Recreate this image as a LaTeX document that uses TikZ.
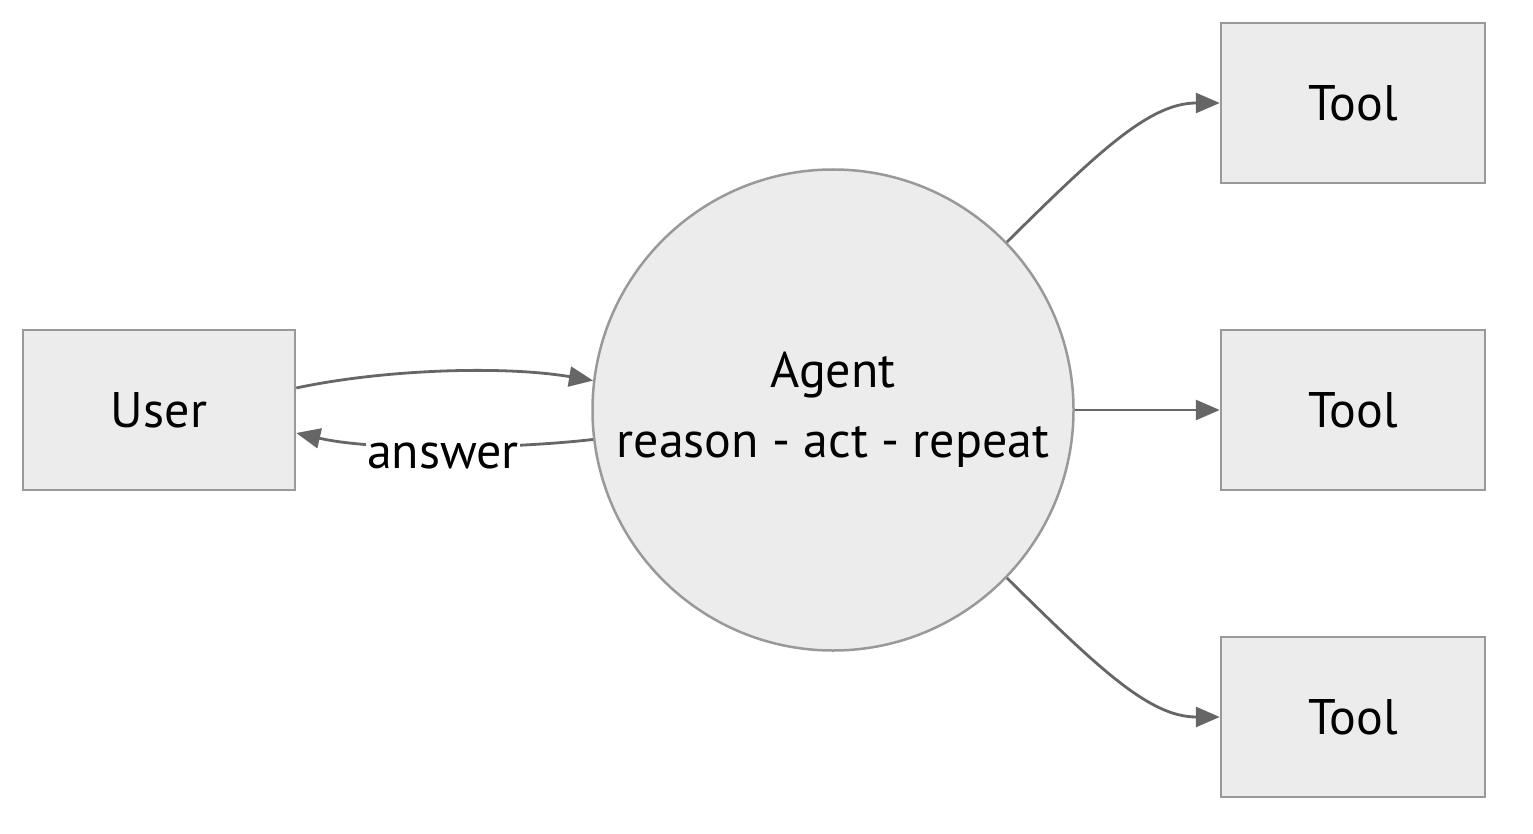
\documentclass[tikz,border=0pt]{standalone}
\usepackage{fontspec}
\setmainfont{PT Sans}
\usetikzlibrary{arrows.meta}
\definecolor{boxfill}{HTML}{ECECEC}
\definecolor{boxline}{HTML}{999999}
\definecolor{edgecol}{HTML}{666666}
\begin{document}
\begin{tikzpicture}[x=1pt,y=-1pt,
  base/.style={draw=boxline, fill=boxfill, line width=2.5pt, inner sep=0pt, font=\fontsize{50}{70}\selectfont, text=black},
  box/.style={base, rectangle, minimum width=272pt, minimum height=160pt},
  toolbox/.style={base, rectangle, minimum width=264pt, minimum height=160pt},
  agentnode/.style={base, circle, minimum size=481pt, align=center},
  edge/.style={draw=edgecol, line width=2.8pt, -{Triangle[length=24pt,width=20pt]}},
  lbl/.style={fill=white, inner sep=1pt, font=\fontsize{50}{56}\selectfont}]
\useasboundingbox (0,0) rectangle (1533,834);
\node[box] (user) at (159,410) {User};
\node[agentnode] (agent) at (833,410) {Agent\\reason - act - repeat};
\node[toolbox] (t1) at (1353,103) {Tool};
\node[toolbox] (t2) at (1353,410) {Tool};
\node[toolbox] (t3) at (1353,717) {Tool};
\draw[edge] ([yshift=22pt]user.east) .. controls (380,370) and (500,365) .. (agent.173);
\draw[edge] (agent.187) .. controls (520,448) and (380,452) .. ([yshift=-23pt]user.east);
\node[lbl] (ans) at (443,456) {answer};
\draw[edge] (agent.44) .. controls (1100,150) and (1150,103) .. (t1.west);
\draw[edge] (agent.east) -- (t2.west);
\draw[edge] (agent.-44) .. controls (1100,670) and (1150,717) .. (t3.west);
\end{tikzpicture}
\end{document}
